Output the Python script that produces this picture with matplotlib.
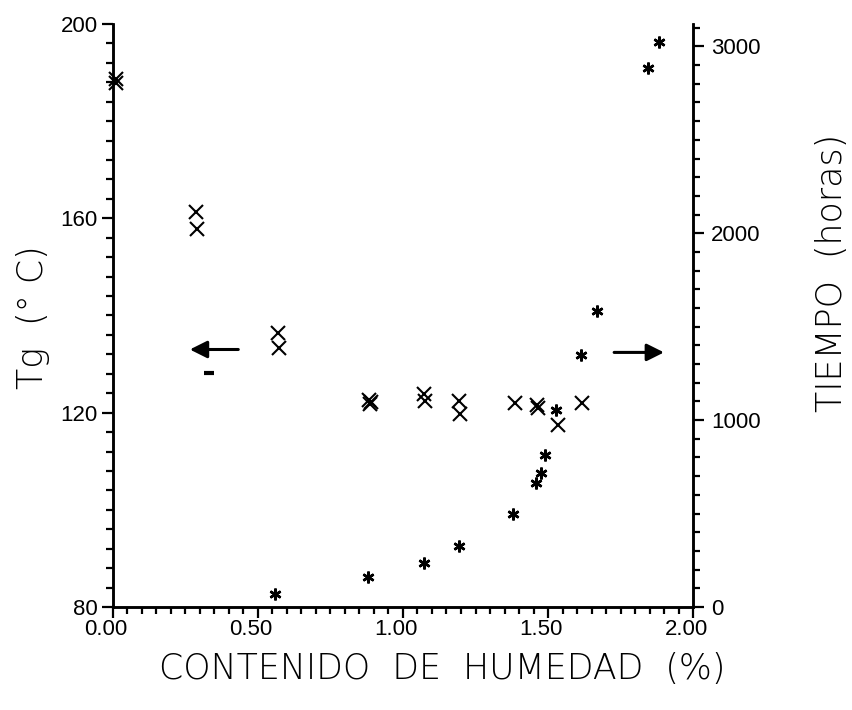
import matplotlib
matplotlib.use('Agg')
import matplotlib.pyplot as plt
import matplotlib.transforms as mtransforms
from matplotlib.ticker import MultipleLocator, FormatStrFormatter

# Tg (left axis, "x" markers)
tg_x = [0.01, 0.012, 0.285, 0.29, 0.57, 0.572, 0.883, 0.886, 0.889, 1.074, 1.077,
        1.193, 1.195, 1.386, 1.463, 1.466, 1.534, 1.617]
tg_y = [188.6, 187.9, 161.2, 157.9, 136.3, 133.4, 122.6, 121.7, 122.1, 123.9, 122.5,
        122.5, 119.8, 121.9, 121.6, 120.9, 117.5, 121.9]
# stray dash mark
dash_x = [0.331]
dash_y = [128.2]
# Tiempo (right axis, "*" markers)
t_x = [0.56, 0.879, 1.072, 1.193, 1.379, 1.457, 1.476, 1.490, 1.528, 1.614, 1.669, 1.845, 1.883]
t_y = [70, 160, 236, 327, 498, 664, 718, 814, 1055, 1350, 1585, 2882, 3026]

xticks = [0.0, 0.5, 1.0, 1.5, 2.0]
tg_ticks = [80, 120, 160, 200]
t_ticks = [0, 1000, 2000, 3000]

fig = plt.figure(figsize=(8.52, 7.10), dpi=100)
ax = fig.add_axes([0.1326, 0.1451, 0.6808, 0.8211])
ax2 = ax.twinx()

ax.plot(tg_x, tg_y, linestyle='none', marker='x', ms=10.5, mew=1.5, color='k', clip_on=False, zorder=5)
ax.plot(dash_x, dash_y, linestyle='none', marker='_', ms=7, mew=3, color='k')
ax2.plot(t_x, t_y, linestyle='none', marker=(6, 2, 0), ms=8.5, mew=1.8, color='k', clip_on=False)

ax.set_xlim(0, 2.0)
ax.set_ylim(80, 200)
ax2.set_ylim(0, 3120)

for a in (ax, ax2):
    a.spines['top'].set_visible(False)
    for s in ('left', 'right', 'bottom'):
        a.spines[s].set_linewidth(1.8)

ax.set_xticks(xticks)
ax.set_yticks(tg_ticks)
ax2.set_yticks(t_ticks)
ax.xaxis.set_minor_locator(MultipleLocator(0.05))
ax.yaxis.set_minor_locator(MultipleLocator(4))
ax2.yaxis.set_minor_locator(MultipleLocator(100))
ax.xaxis.set_major_formatter(FormatStrFormatter('%.2f'))

for a in (ax, ax2):
    a.tick_params(which='major', direction='out', length=8, width=1.6, pad=3, labelsize=16)
    a.tick_params(which='minor', direction='out', length=5, width=1.6)
    for lab in a.get_xticklabels() + a.get_yticklabels():
        lab.set_fontfamily('Liberation Sans')
ax.tick_params(axis='x', pad=1)
ax2.tick_params(axis='y', which='major', pad=5)

offset = mtransforms.ScaledTranslation(-5 / 72, 0, fig.dpi_scale_trans)
for lab in ax.get_xticklabels():
    lab.set_transform(lab.get_transform() + offset)

ax.annotate('', xy=(0.265, 133.0), xytext=(0.432, 133.0),
            arrowprops=dict(arrowstyle='-|>', lw=2.2, color='k', mutation_scale=26, shrinkA=0, shrinkB=0))
ax.annotate('', xy=(1.90, 132.4), xytext=(1.728, 132.4),
            arrowprops=dict(arrowstyle='-|>', lw=2.2, color='k', mutation_scale=26, shrinkA=0, shrinkB=0))

labfont = dict(family='DejaVu Sans', size=25, weight='light')
fig.text(0.519, 0.058, 'CONTENIDO  DE  HUMEDAD  (%)', ha='center', va='center', **labfont)
fig.text(0.039, 0.553, 'Tg  (° C)', rotation=90, ha='center', va='center', **labfont)
fig.text(0.976, 0.615, 'TIEMPO  (horas)', rotation=90, ha='center', va='center', **labfont)

fig.savefig('out.png', dpi=100)
